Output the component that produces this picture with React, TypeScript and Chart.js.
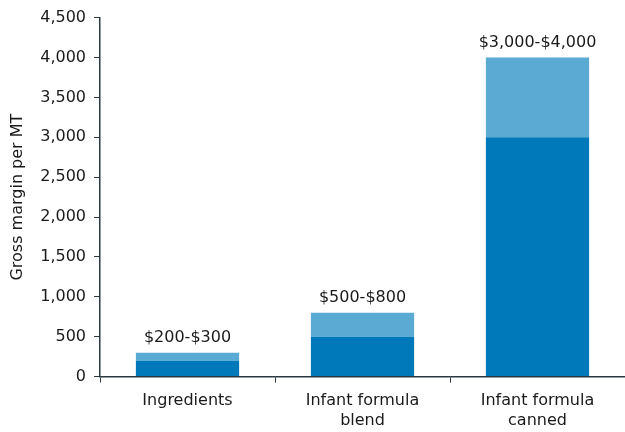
import React, { useEffect, useRef } from "react";
import { Chart, registerables } from "chart.js";

Chart.register(...registerables);

const categories: string[][] = [["Ingredients"], ["Infant formula", "blend"], ["Infant formula", "canned"]];
const baseValues = [200, 500, 3000];
const rangeValues = [100, 300, 1000];
const rangeLabels = ["$200-$300", "$500-$800", "$3,000-$4,000"];
const yTitle = "Gross margin per MT";

const FONT = "'DejaVu Sans', Verdana, sans-serif";
const SIZE = 16;
const TEXT = "#1a1a1a";
const AXIS = "#2b3a42";

const labelPlugin = {
  id: "rangeLabels",
  afterDatasetsDraw(chart: any) {
    const meta = chart.getDatasetMeta(1);
    const ctx = chart.ctx;
    ctx.save();
    ctx.font = `${SIZE}px ${FONT}`;
    ctx.fillStyle = TEXT;
    ctx.textAlign = "center";
    ctx.textBaseline = "bottom";
    meta.data.forEach((bar: any, i: number) => {
      ctx.fillText(rangeLabels[i], bar.x, bar.y - 7);
    });
    ctx.restore();
  },
};

export default function App() {
  const ref = useRef<HTMLCanvasElement>(null);
  useEffect(() => {
    if (!ref.current) return;
    const chart = new Chart(ref.current, {
      type: "bar",
      data: {
        labels: categories,
        datasets: [
          { data: baseValues, backgroundColor: "#0079BA", barPercentage: 0.59, categoryPercentage: 1 },
          { data: rangeValues, backgroundColor: "#5AAAD4", barPercentage: 0.59, categoryPercentage: 1 },
        ],
      },
      options: {
        animation: false,
        responsive: false,
        maintainAspectRatio: false,
        layout: { padding: { top: 12, right: 0, left: 8, bottom: -7 } },
        plugins: { legend: { display: false }, tooltip: { enabled: false } },
        scales: {
          x: {
            stacked: true,
            grid: { drawOnChartArea: false, drawTicks: true, tickLength: 6, color: AXIS, offset: true },
            border: { display: true, color: AXIS, width: 1.5 },
            ticks: { color: TEXT, font: { family: FONT, size: SIZE, lineHeight: 1.2 }, padding: 9, maxRotation: 0 },
          },
          y: {
            stacked: true,
            min: 0,
            max: 4500,
            grid: { drawOnChartArea: false, drawTicks: true, tickLength: 6, color: AXIS },
            border: { display: true, color: AXIS, width: 1.5 },
            ticks: { stepSize: 500, color: TEXT, font: { family: FONT, size: SIZE }, padding: 8 },
            title: { display: true, text: yTitle, color: TEXT, font: { family: FONT, size: SIZE }, padding: { top: 0, bottom: 5 } },
          },
        },
      },
      plugins: [labelPlugin],
    });
    return () => chart.destroy();
  }, []);
  return (
    <div style={{ position: "fixed", left: 0, top: 0, width: 625, height: 432, background: "#fff" }}>
      <canvas ref={ref} width={625} height={432} />
    </div>
  );
}
